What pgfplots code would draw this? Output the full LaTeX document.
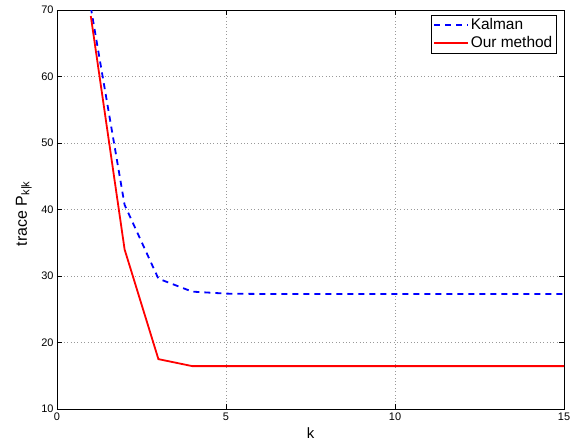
\documentclass[border=0pt]{standalone}
\usepackage{fontspec}
\setmainfont{Liberation Sans}
\usepackage{pgfplots}
\pgfplotsset{compat=1.18}
\begin{document}
\begin{tikzpicture}
\useasboundingbox (-57bp,-36bp) rectangle (514bp,409bp);
\begin{axis}[
  at={(0,0)}, anchor=south west,
  scale only axis,
  width=507bp, height=399bp,
  xmin=0, xmax=15, ymin=10, ymax=70,
  xtick={0,5,10,15}, ytick={10,20,30,40,50,60,70},
  /pgf/number format/assume math mode=true,
  tick label style={font=\fontsize{11}{13}\selectfont},
  tick align=inside,
  major tick length=5bp,
  axis line style={line width=0.9bp, black},
  every tick/.style={black, line width=0.6bp},
  grid=major,
  major grid style={gray!80, line width=0.5bp, dash pattern=on 0.8bp off 2.6bp},
  xlabel={k},
  ylabel={trace P\textsubscript{k|k}},
  xlabel style={font=\fontsize{15}{17}\selectfont, at={(axis description cs:0.5,-0.0727)}, anchor=base, inner sep=0pt},
  ylabel style={font=\fontsize{16}{18}\selectfont, at={(axis description cs:-0.0493,0.49)}, anchor=south, inner sep=0pt},
  legend style={at={(0.9856,0.9875)}, anchor=north east, draw=black, line width=0.8bp, fill=white,
    font=\fontsize{15.5}{18}\selectfont, inner xsep=2.5bp, inner ysep=1bp, row sep=0pt,
    nodes={inner sep=1.5bp, text height=11.5bp, text depth=3.5bp}},
  legend cell align=left,
  legend image code/.code={\draw[#1, line width=1.8bp] (0bp,0bp) -- (34bp,0bp);},
]
\addplot[blue, line width=1.8bp, dash pattern=on 6bp off 5bp] coordinates {
(1,70.4) (2,40.7) (3,29.6) (4,27.65) (5,27.35) (6,27.3) (7,27.3) (8,27.3) (9,27.3) (10,27.3) (11,27.3) (12,27.3) (13,27.3) (14,27.3) (15,27.3)};
\addlegendentry{Kalman}
\addplot[red, line width=1.8bp] coordinates {
(1,69.1) (2,34) (3,17.5) (4,16.45) (5,16.45) (6,16.45) (7,16.45) (8,16.45) (9,16.45) (10,16.45) (11,16.45) (12,16.45) (13,16.45) (14,16.45) (15,16.45)};
\addlegendentry{Our method}
\end{axis}
\end{tikzpicture}
\end{document}
